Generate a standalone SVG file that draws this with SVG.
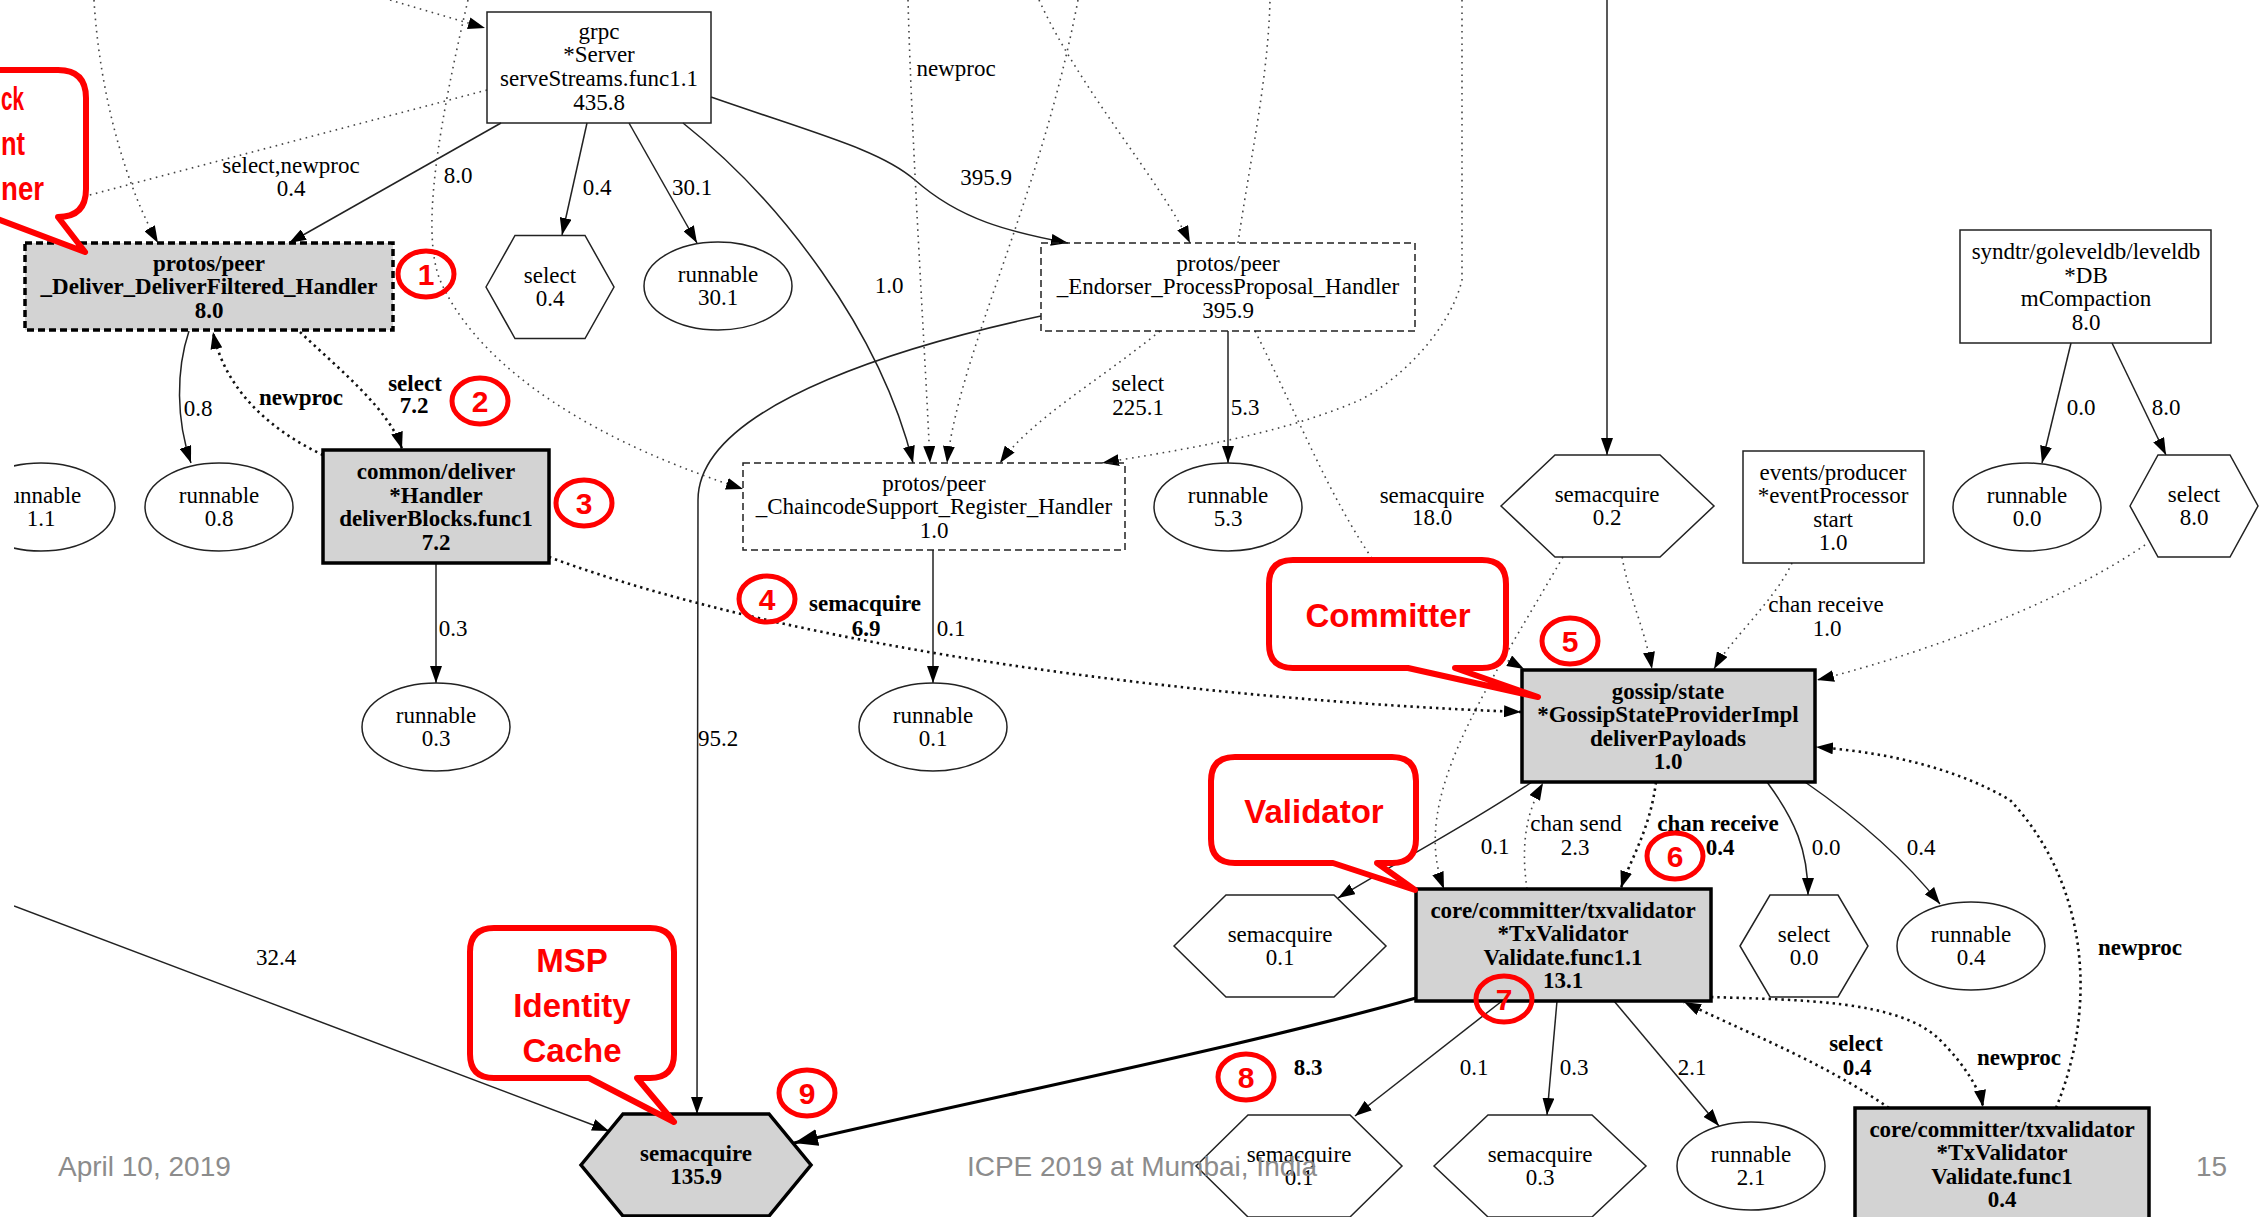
<svg xmlns="http://www.w3.org/2000/svg" width="2265" height="1217" viewBox="0 0 2265 1217">
<defs>
  <style>
    .n{fill:none;stroke:#222;stroke-width:1.5}
    .g{fill:#d3d3d3;stroke:#000;stroke-width:3.5}
    .dash{stroke-dasharray:7 4}
    .t{font-family:"Liberation Serif","Times New Roman",serif;font-size:23px;fill:#000;text-anchor:middle}
    .b{font-weight:bold}
    .e{fill:none;stroke:#222;stroke-width:1.5}
    .eb{fill:none;stroke:#000;stroke-width:3.2}
    .d{fill:none;stroke:#444;stroke-width:1.6;stroke-dasharray:1.6 4.6}
    .db{fill:none;stroke:#111;stroke-width:2.6;stroke-dasharray:2.4 4}
    .co{fill:#fff;stroke:#f00;stroke-width:6;stroke-linejoin:round}
    .ct{font-family:"Liberation Sans",Arial,sans-serif;font-weight:bold;font-size:33px;fill:#f00;text-anchor:middle}
    .cl{font-family:"Liberation Sans",Arial,sans-serif;font-weight:bold;font-size:33px;fill:#f00}
    .rc{fill:none;stroke:#f00;stroke-width:5}
    .rn{font-family:"Liberation Sans",Arial,sans-serif;font-weight:bold;font-size:30px;fill:#f00;text-anchor:middle}
    .ft{font-family:"Liberation Sans",Arial,sans-serif;font-size:28px;fill:#8c8c8c}
  </style>
  <marker id="a" markerWidth="17" markerHeight="12" refX="17" refY="6" orient="auto" markerUnits="userSpaceOnUse">
    <path d="M0,0 L17,6 L0,12 Z" fill="#000"/>
  </marker>
  <marker id="ab" markerWidth="24" markerHeight="17" refX="24" refY="8.5" orient="auto" markerUnits="userSpaceOnUse">
    <path d="M0,0 L24,8.5 L0,17 Z" fill="#000"/>
  </marker>
  <clipPath id="clipL"><rect x="14" y="0" width="2251" height="1217"/></clipPath>
</defs>
<rect width="2265" height="1217" fill="#fff"/>

<g clip-path="url(#clipL)">
<!-- connectors -->
<g id="edges">
  <!-- solid call edges -->
  <path class="e" d="M501,123 L289,243" marker-end="url(#a)"/>
  <path class="e" d="M587,123 L562,235" marker-end="url(#a)"/>
  <path class="e" d="M629,123 L697,243" marker-end="url(#a)"/>
  <path class="e" d="M683,123 C780,200 880,330 913,463" marker-end="url(#a)"/>
  <path class="e" d="M711,97 C820,135 880,150 915,180 C960,220 1010,232 1068,243" marker-end="url(#a)"/>
  <path class="e" d="M1041,316 C930,340 698,400 698,500 L697,1114" marker-end="url(#a)"/>
  <path class="e" d="M1228,331 L1228,463" marker-end="url(#a)"/>
  <path class="e" d="M933,550 L933,683" marker-end="url(#a)"/>
  <path class="e" d="M189,331 C176,370 176,420 191,463" marker-end="url(#a)"/>
  <path class="e" d="M436,563 L436,683" marker-end="url(#a)"/>
  <path class="e" d="M1607,0 L1607,455" marker-end="url(#a)"/>
  <path class="e" d="M2071,343 L2042,463" marker-end="url(#a)"/>
  <path class="e" d="M2112,343 L2166,455" marker-end="url(#a)"/>
  <path class="e" d="M1532,782 C1460,830 1400,860 1338,898" marker-end="url(#a)"/>
  <path class="e" d="M1767,782 C1795,820 1808,850 1808,895" marker-end="url(#a)"/>
  <path class="e" d="M1805,782 C1860,820 1905,860 1940,904" marker-end="url(#a)"/>
  <path class="eb" d="M1416,998 C1250,1045 1000,1095 794,1143" marker-end="url(#ab)"/>
  <path class="e" d="M1502,1001 L1355,1116" marker-end="url(#a)"/>
  <path class="e" d="M1557,1001 L1547,1115" marker-end="url(#a)"/>
  <path class="e" d="M1614,1001 L1719,1126" marker-end="url(#a)"/>
  <path class="e" d="M14,906 L609,1131" marker-end="url(#a)"/>

  <!-- dotted edges -->
  <path class="d" d="M390,0 L485,28" marker-end="url(#a)"/>
  <path class="d" d="M487,90 L14,215"/>
  <path class="d" d="M94,0 C100,100 128,190 158,243" marker-end="url(#a)"/>
  <path class="d" d="M468,0 C440,120 420,230 440,280 C470,350 560,430 743,489" marker-end="url(#a)"/>
  <path class="d" d="M908,0 C912,150 925,350 930,463" marker-end="url(#a)"/>
  <path class="d" d="M1078,0 C1040,200 960,350 947,463" marker-end="url(#a)"/>
  <path class="d" d="M1039,0 C1080,90 1160,180 1190,243" marker-end="url(#a)"/>
  <path class="d" d="M1238,243 C1250,160 1268,80 1270,0"/>
  <path class="d" d="M1160,331 C1100,380 1030,420 1000,463" marker-end="url(#a)"/>
  <path class="d" d="M1462,0 L1462,280 C1450,330 1400,380 1360,400 C1280,435 1180,450 1102,463" marker-end="url(#a)"/>
  <path class="d" d="M1255,331 C1300,420 1330,500 1380,570 C1430,630 1490,650 1524,669" marker-end="url(#a)"/>
  <path class="d" d="M1563,557 C1480,700 1410,800 1444,889" marker-end="url(#a)"/>
  <path class="d" d="M1622,557 C1630,600 1645,630 1652,669" marker-end="url(#a)"/>
  <path class="d" d="M1792,563 C1775,600 1730,640 1714,669" marker-end="url(#a)"/>
  <path class="d" d="M2145,545 C2050,610 1900,660 1817,680" marker-end="url(#a)"/>
  <path class="d" d="M1527,889 C1520,840 1528,810 1543,783" marker-end="url(#a)"/>

  <!-- bold dotted edges -->
  <path class="db" d="M323,455 C270,430 225,390 213,332" marker-end="url(#a)"/>
  <path class="db" d="M300,332 C340,370 390,410 402,449" marker-end="url(#a)"/>
  <path class="db" d="M549,557 C800,650 1200,700 1521,712" marker-end="url(#a)"/>
  <path class="db" d="M1656,782 C1650,830 1630,860 1621,888" marker-end="url(#a)"/>
  <path class="db" d="M1889,1108 C1820,1060 1740,1030 1684,1002" marker-end="url(#a)"/>
  <path class="db" d="M1711,997 C1800,1000 1900,1000 1940,1040 C1965,1065 1980,1090 1983,1107" marker-end="url(#a)"/>
  <path class="db" d="M2056,1108 C2100,1000 2085,880 2010,800 C1950,765 1880,752 1816,747" marker-end="url(#a)"/>

  <!-- edge labels -->
  <text class="t" x="291" y="173">select,newproc</text>
  <text class="t" x="291" y="196">0.4</text>
  <text class="t" x="458" y="183">8.0</text>
  <text class="t" x="597" y="195">0.4</text>
  <text class="t" x="692" y="195">30.1</text>
  <text class="t" x="956" y="76">newproc</text>
  <text class="t" x="986" y="185">395.9</text>
  <text class="t" x="889" y="293">1.0</text>
  <text class="t" x="1138" y="391">select</text>
  <text class="t" x="1138" y="415">225.1</text>
  <text class="t" x="1245" y="415">5.3</text>
  <text class="t" x="198" y="416">0.8</text>
  <text class="t b" x="301" y="405">newproc</text>
  <text class="t b" x="415" y="391">select</text>
  <text class="t b" x="414" y="413">7.2</text>
  <text class="t b" x="865" y="611">semacquire</text>
  <text class="t b" x="866" y="636">6.9</text>
  <text class="t" x="951" y="636">0.1</text>
  <text class="t" x="453" y="636">0.3</text>
  <text class="t" x="718" y="746">95.2</text>
  <text class="t" x="1432" y="503">semacquire</text>
  <text class="t" x="1432" y="525">18.0</text>
  <text class="t" x="2081" y="415">0.0</text>
  <text class="t" x="2166" y="415">8.0</text>
  <text class="t" x="1826" y="612">chan receive</text>
  <text class="t" x="1827" y="636">1.0</text>
  <text class="t" x="276" y="965">32.4</text>
  <text class="t" x="1495" y="854">0.1</text>
  <text class="t" x="1576" y="831">chan send</text>
  <text class="t" x="1575" y="855">2.3</text>
  <text class="t b" x="1718" y="831">chan receive</text>
  <text class="t b" x="1720" y="855">0.4</text>
  <text class="t" x="1826" y="855">0.0</text>
  <text class="t" x="1921" y="855">0.4</text>
  <text class="t b" x="2140" y="955">newproc</text>
  <text class="t b" x="1308" y="1075">8.3</text>
  <text class="t" x="1474" y="1075">0.1</text>
  <text class="t" x="1574" y="1075">0.3</text>
  <text class="t" x="1692" y="1075">2.1</text>
  <text class="t b" x="1856" y="1051">select</text>
  <text class="t b" x="1857" y="1075">0.4</text>
  <text class="t b" x="2019" y="1065">newproc</text>
</g>

<!-- nodes -->
<g id="grpc-server">
  <rect class="n" x="487" y="12" width="224" height="111" fill="#fff"/>
  <text class="t" x="599" y="39">grpc</text>
  <text class="t" x="599" y="62">*Server</text>
  <text class="t" x="599" y="86">serveStreams.func1.1</text>
  <text class="t" x="599" y="110">435.8</text>
</g>
<g id="deliver-handler">
  <rect class="g dash" x="25" y="243" width="368" height="87"/>
  <text class="t b" x="209" y="271">protos/peer</text>
  <text class="t b" x="209" y="294">_Deliver_DeliverFiltered_Handler</text>
  <text class="t b" x="209" y="318">8.0</text>
</g>
<g id="select-04">
  <polygon class="n" points="486,287 515,235.5 585,235.5 614,287 585,338.5 515,338.5"/>
  <text class="t" x="550" y="283">select</text>
  <text class="t" x="550" y="306">0.4</text>
</g>
<g id="runnable-301">
  <ellipse class="n" cx="718" cy="286" rx="74" ry="44"/>
  <text class="t" x="718" y="282">runnable</text>
  <text class="t" x="718" y="305">30.1</text>
</g>
<g id="endorser-handler">
  <rect class="n dash" x="1041" y="243" width="374" height="88" fill="#fff"/>
  <text class="t" x="1228" y="271">protos/peer</text>
  <text class="t" x="1228" y="294">_Endorser_ProcessProposal_Handler</text>
  <text class="t" x="1228" y="318">395.9</text>
</g>
<g id="leveldb-compaction">
  <rect class="n" x="1960" y="230" width="251" height="113" fill="#fff"/>
  <text class="t" x="2086" y="259">syndtr/goleveldb/leveldb</text>
  <text class="t" x="2086" y="283">*DB</text>
  <text class="t" x="2086" y="306">mCompaction</text>
  <text class="t" x="2086" y="330">8.0</text>
</g>
<g id="runnable-11">
  <ellipse class="n" cx="41" cy="507" rx="74" ry="44"/>
  <text class="t" x="41" y="503">runnable</text>
  <text class="t" x="41" y="526">1.1</text>
</g>
<g id="runnable-08">
  <ellipse class="n" cx="219" cy="507" rx="74" ry="44"/>
  <text class="t" x="219" y="503">runnable</text>
  <text class="t" x="219" y="526">0.8</text>
</g>
<g id="deliver-blocks">
  <rect class="g" x="323" y="450" width="226" height="113"/>
  <text class="t b" x="436" y="479">common/deliver</text>
  <text class="t b" x="436" y="503">*Handler</text>
  <text class="t b" x="436" y="526">deliverBlocks.func1</text>
  <text class="t b" x="436" y="550">7.2</text>
</g>
<g id="chaincode-handler">
  <rect class="n dash" x="743" y="463" width="382" height="87" fill="#fff"/>
  <text class="t" x="934" y="491">protos/peer</text>
  <text class="t" x="934" y="514">_ChaincodeSupport_Register_Handler</text>
  <text class="t" x="934" y="538">1.0</text>
</g>
<g id="runnable-53">
  <ellipse class="n" cx="1228" cy="507" rx="74" ry="44"/>
  <text class="t" x="1228" y="503">runnable</text>
  <text class="t" x="1228" y="526">5.3</text>
</g>
<g id="semacquire-02">
  <polygon class="n" points="1501,506 1555,455 1660,455 1714,506 1660,557 1555,557"/>
  <text class="t" x="1607" y="502">semacquire</text>
  <text class="t" x="1607" y="525">0.2</text>
</g>
<g id="event-processor">
  <rect class="n" x="1743" y="451" width="181" height="112" fill="#fff"/>
  <text class="t" x="1833" y="480">events/producer</text>
  <text class="t" x="1833" y="503">*eventProcessor</text>
  <text class="t" x="1833" y="527">start</text>
  <text class="t" x="1833" y="550">1.0</text>
</g>
<g id="runnable-00">
  <ellipse class="n" cx="2027" cy="507" rx="74" ry="44"/>
  <text class="t" x="2027" y="503">runnable</text>
  <text class="t" x="2027" y="526">0.0</text>
</g>
<g id="select-80">
  <polygon class="n" points="2130,506 2158,455 2230,455 2258,506 2230,557 2158,557"/>
  <text class="t" x="2194" y="502">select</text>
  <text class="t" x="2194" y="525">8.0</text>
</g>
<g id="runnable-03">
  <ellipse class="n" cx="436" cy="727" rx="74" ry="44"/>
  <text class="t" x="436" y="723">runnable</text>
  <text class="t" x="436" y="746">0.3</text>
</g>
<g id="runnable-01">
  <ellipse class="n" cx="933" cy="727" rx="74" ry="44"/>
  <text class="t" x="933" y="723">runnable</text>
  <text class="t" x="933" y="746">0.1</text>
</g>
<g id="gossip-state">
  <rect class="g" x="1522" y="670" width="293" height="112"/>
  <text class="t b" x="1668" y="699">gossip/state</text>
  <text class="t b" x="1668" y="722">*GossipStateProviderImpl</text>
  <text class="t b" x="1668" y="746">deliverPayloads</text>
  <text class="t b" x="1668" y="769">1.0</text>
</g>
<g id="semacquire-01a">
  <polygon class="n" points="1174,946 1226,895 1334,895 1386,946 1334,997 1226,997"/>
  <text class="t" x="1280" y="942">semacquire</text>
  <text class="t" x="1280" y="965">0.1</text>
</g>
<g id="txvalidator-func11">
  <rect class="g" x="1416" y="889" width="295" height="112"/>
  <text class="t b" x="1563" y="918">core/committer/txvalidator</text>
  <text class="t b" x="1563" y="941">*TxValidator</text>
  <text class="t b" x="1563" y="965">Validate.func1.1</text>
  <text class="t b" x="1563" y="988">13.1</text>
</g>
<g id="select-00">
  <polygon class="n" points="1740,946 1770,895 1838,895 1868,946 1838,997 1770,997"/>
  <text class="t" x="1804" y="942">select</text>
  <text class="t" x="1804" y="965">0.0</text>
</g>
<g id="runnable-04">
  <ellipse class="n" cx="1971" cy="946" rx="74" ry="44"/>
  <text class="t" x="1971" y="942">runnable</text>
  <text class="t" x="1971" y="965">0.4</text>
</g>
<g id="semacquire-1359">
  <polygon class="g" points="581,1165 623,1114 769,1114 811,1165 769,1216 623,1216"/>
  <text class="t b" x="696" y="1161">semacquire</text>
  <text class="t b" x="696" y="1184">135.9</text>
</g>
<g id="semacquire-01b">
  <polygon class="n" points="1196,1166 1248,1115 1350,1115 1402,1166 1350,1217 1248,1217"/>
  <text class="t" x="1299" y="1162">semacquire</text>
  <text class="t" x="1299" y="1185">0.1</text>
</g>
<g id="semacquire-03">
  <polygon class="n" points="1434,1166 1488,1115 1592,1115 1646,1166 1592,1217 1488,1217"/>
  <text class="t" x="1540" y="1162">semacquire</text>
  <text class="t" x="1540" y="1185">0.3</text>
</g>
<g id="runnable-21">
  <ellipse class="n" cx="1751" cy="1166" rx="74" ry="44"/>
  <text class="t" x="1751" y="1162">runnable</text>
  <text class="t" x="1751" y="1185">2.1</text>
</g>
<g id="txvalidator-func1">
  <rect class="g" x="1855" y="1108" width="294" height="120"/>
  <text class="t b" x="2002" y="1137">core/committer/txvalidator</text>
  <text class="t b" x="2002" y="1160">*TxValidator</text>
  <text class="t b" x="2002" y="1184">Validate.func1</text>
  <text class="t b" x="2002" y="1207">0.4</text>
</g>
</g>

<!-- callouts -->
<g id="callout-listener">
  <path class="co" d="M-40,70 H58 Q86,70 86,98 V189 Q86,217 58,217 L85,252 L-8,217 H-40 Z"/>
  <text class="cl" x="1" y="110" textLength="23" lengthAdjust="spacingAndGlyphs">ck</text>
  <text class="cl" x="1" y="155" textLength="24" lengthAdjust="spacingAndGlyphs">nt</text>
  <text class="cl" x="1" y="200" textLength="43" lengthAdjust="spacingAndGlyphs">ner</text>
</g>
<g id="callout-committer">
  <path class="co" d="M1293,560 H1482 Q1506,560 1506,584 V644 Q1506,668 1482,668 H1455 L1538,697 L1408,668 H1293 Q1269,668 1269,644 V584 Q1269,560 1293,560 Z"/>
  <text class="ct" x="1388" y="627">Committer</text>
</g>
<g id="callout-validator">
  <path class="co" d="M1235,757 H1392 Q1416,757 1416,781 V839 Q1416,863 1392,863 H1377 L1415,890 L1333,863 H1235 Q1211,863 1211,839 V781 Q1211,757 1235,757 Z"/>
  <text class="ct" x="1314" y="823">Validator</text>
</g>
<g id="callout-msp">
  <path class="co" d="M494,928 H650 Q674,928 674,952 V1054 Q674,1078 650,1078 H637 L674,1122 L589,1078 H494 Q470,1078 470,1054 V952 Q470,928 494,928 Z"/>
  <text class="ct" x="572" y="972">MSP</text>
  <text class="ct" x="572" y="1017">Identity</text>
  <text class="ct" x="572" y="1062">Cache</text>
</g>

<!-- numbered markers -->
<g id="markers">
  <ellipse class="rc" cx="426" cy="274" rx="28" ry="23"/><text class="rn" x="426" y="285">1</text>
  <ellipse class="rc" cx="480" cy="401" rx="28" ry="23"/><text class="rn" x="480" y="412">2</text>
  <ellipse class="rc" cx="584" cy="503" rx="28" ry="23"/><text class="rn" x="584" y="514">3</text>
  <ellipse class="rc" cx="767" cy="599" rx="28" ry="23"/><text class="rn" x="767" y="610">4</text>
  <ellipse class="rc" cx="1570" cy="641" rx="28" ry="23"/><text class="rn" x="1570" y="652">5</text>
  <ellipse class="rc" cx="1675" cy="856" rx="28" ry="23"/><text class="rn" x="1675" y="867">6</text>
  <ellipse class="rc" cx="1504" cy="999" rx="28" ry="23"/><text class="rn" x="1504" y="1010">7</text>
  <ellipse class="rc" cx="1246" cy="1077" rx="28" ry="23"/><text class="rn" x="1246" y="1088">8</text>
  <ellipse class="rc" cx="807" cy="1093" rx="28" ry="23"/><text class="rn" x="807" y="1104">9</text>
</g>

<!-- slide footer -->
<text class="ft" x="58" y="1176">April 10, 2019</text>
<text class="ft" x="1142" y="1176" text-anchor="middle">ICPE 2019 at Mumbai, India</text>
<text class="ft" x="2196" y="1176">15</text>
</svg>
